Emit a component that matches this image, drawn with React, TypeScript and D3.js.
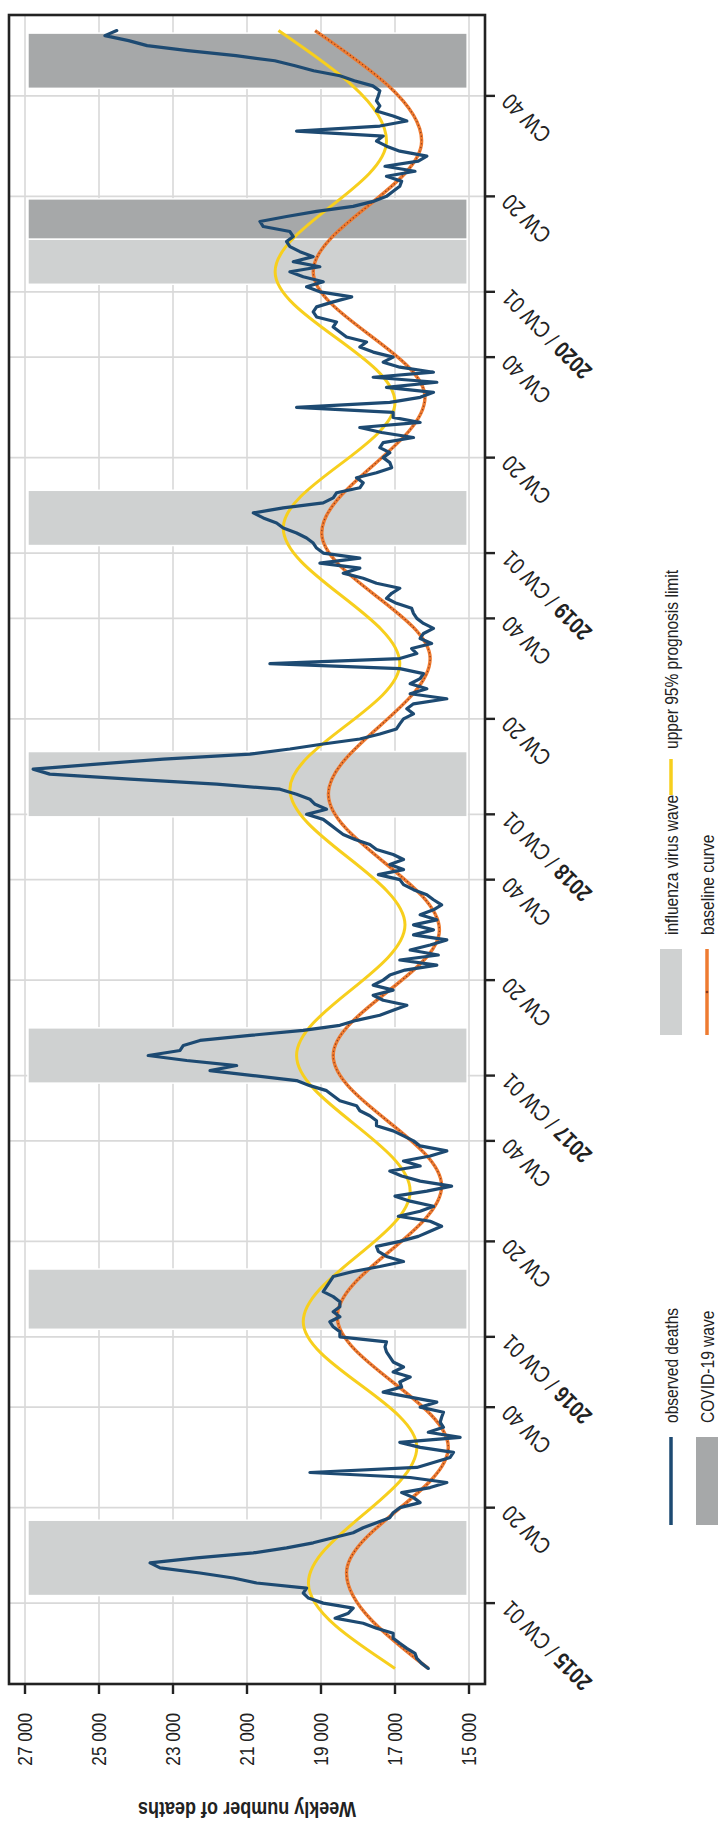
import React from "react";
import * as d3 from "d3";

const width = 726;
const height = 1823;

// the figure is laid out landscape and then turned a quarter turn left,
// so "x" below runs along the page from bottom to top
const left = 139;
const right = 1808;
const top = 9;
const bottom = 485;

// week index: 0 = 2015 CW01, data starts at 2014 CW40
const firstWeek = -13;

const deaths2014 = [16100, 16280, 16410, 16460, 16680, 16870, 17050, 17050, 17500, 17860, 18620, 18260, 18130];
const deaths2015 = [
  18940, 19340, 19480, 19390, 20740, 21370, 22270, 23350, 23620, 22360, 20830, 19930, 19210, 18670,
  18130, 17860, 17500, 17140, 17050, 16870, 16320, 16500, 16820, 16050, 15600, 16590, 19300, 16410,
  15960, 15510, 15420, 16320, 16870, 15240, 16100, 15690, 15780, 15740, 15690, 16320, 15870, 16590,
  17320, 16820, 16870, 16590, 17050, 16770, 17050, 17140, 17230, 17270, 17230,
];
const deaths2016 = [
  18490, 18490, 18670, 18760, 18490, 18670, 18490, 18490, 18670, 18940, 18850, 18760, 18670, 18130,
  17410, 16770, 17230, 17450, 17500, 16870, 16370, 16050, 15740, 16050, 16910, 16320, 15960, 16590,
  17000, 16140, 15470, 16320, 16820, 17140, 16320, 16770, 16050, 15600, 16320, 16500, 16770, 17050,
  17500, 17500, 17680, 17950, 18040, 18490, 18670, 18850, 19300, 19660,
];
const deaths2017 = [
  20830, 22000, 21280, 22630, 23670, 22810, 22720, 22270, 20920, 19480, 18490, 18040, 17410, 17050,
  16680, 17320, 17590, 17050, 17590, 17320, 17140, 16730, 15870, 16870, 15830, 16590, 16050, 15600,
  16500, 15960, 16500, 15870, 16320, 15960, 15740, 15960, 16140, 16500, 16770, 16870, 17450, 16770,
  17140, 16770, 17050, 17500, 17680, 18080, 18400, 18580, 18760, 18940,
];
const deaths2018 = [
  19390, 18850, 19160, 19300, 19660, 20110, 21820, 24160, 26330, 26780, 25060, 23260, 20920, 19840,
  18940, 17950, 17410, 16960, 16870, 16770, 16500, 16680, 16500, 15600, 16590, 16140, 16590, 16320,
  16230, 16870, 20380, 16870, 16410, 16550, 16010, 16320, 16230, 15960, 16230, 16410, 16500, 16550,
  16960, 17230, 17090, 16870, 17500, 17860, 18400, 17950, 19030, 17950,
];
const deaths2019 = [
  18940, 19120, 19210, 19390, 19660, 20020, 20200, 20560, 20830, 20020, 18940, 18670, 18580, 17950,
  17860, 18040, 17500, 17090, 17140, 17320, 17140, 17410, 17320, 16500, 17360, 17950, 16320, 17050,
  17050, 19660, 17140, 16320, 15960, 17230, 15870, 17590, 15960, 16870, 17320, 17050, 17590, 17950,
  17770, 18310, 18490, 18670, 18580, 19120, 19210, 19120, 18670, 18170,
];
const deaths2020 = [
  19030, 19390, 18940, 19480, 19840, 19030, 19750, 19210, 19570, 19840, 19930, 19750, 19840, 20560,
  20650, 19930, 19120, 18130, 17590, 17230, 17050, 16870, 16820, 17230, 16460, 17270, 16370, 16140,
  16870, 17230, 17500, 17320, 19660, 17410, 16680, 17050, 17500, 17410, 17500, 17450, 17410, 17600,
  18100, 18490, 19200, 19700, 20250, 21300, 22600, 23700, 24200, 24840, 24520,
];
const observed = [
  ...deaths2014, ...deaths2015, ...deaths2016, ...deaths2017, ...deaths2018, ...deaths2019, ...deaths2020,
];

// turning points of the two smooth curves
const upperWeeks = [-13, 4, 31, 56, 82, 109, 135, 162, 187, 214, 239, 265, 291, 313];
const upperValues = [17000, 19340, 16410, 19480, 16590, 19660, 16730, 19840, 16870, 20020, 17000, 20240, 17230, 20150];
const baseWeeks = [-13, 6, 31, 57, 83, 109, 134, 161, 188, 213, 240, 265, 291, 313];
const baseValues = [16100, 18310, 15560, 18560, 15740, 18670, 15800, 18800, 16050, 18980, 16190, 19210, 16280, 19160];

// shaded periods, first and last week index
const fluStart = [2, 55, 104, 157, 211, 263];
const fluEnd = [16, 66, 114, 169, 221, 271];
const covidStart = [272, 302];
const covidEnd = [279, 312];

const years = [2015, 2016, 2017, 2018, 2019, 2020];
const yearStart = [0, 53, 105, 157, 209, 261];
const valueTicks = [15000, 17000, 19000, 21000, 23000, 25000, 27000];

const x = d3.scaleLinear().domain([-16.1, 316.1]).range([left, right]);
const y = d3.scaleLinear().domain([15000, 27000]).range([469, 25]);
const fmt = d3.formatLocale({ decimal: ".", thousands: " ", grouping: [3], currency: ["", ""] }).format(",");

const observedLine = d3.line<number>().x((d, i) => x(firstWeek + i)).y(d => y(d));
const smoothLine = d3.line<[number, number]>().x(d => x(d[0])).y(d => y(d[1])).curve(d3.curveMonotoneX);
const upperPath = smoothLine(upperWeeks.map((w, i) => [w, upperValues[i]]));
const basePath = smoothLine(baseWeeks.map((w, i) => [w, baseValues[i]]));

const ticks: { week: number; year?: number; cw: string }[] = [];
yearStart.forEach((s, i) => {
  ticks.push({ week: s, year: years[i], cw: "CW 01" });
  ticks.push({ week: s + 19, cw: "CW 20" });
  ticks.push({ week: s + 39, cw: "CW 40" });
});

const font = "'Liberation Sans', Arial, Helvetica, sans-serif";
const ink = "#222";
const blue = "#1d4a72";
const yellow = "#f7cf1d";
const orange = "#ee7b31";
const lightGrey = "#cfd1d1";
const darkGrey = "#a6a8a9";
const gridColor = "#d9d9d9";

// condensed look: squeeze the text along its own direction
const Label = ({ x, y, angle = 0, size = 21, bold = false, anchor = "start", children }: any) => (
  <g transform={`translate(${x},${y}) rotate(${angle}) scale(0.82,1)`}>
    <text fontSize={size} fontWeight={bold ? "bold" : "normal"} textAnchor={anchor} dy="0.35em" fill={ink} fontFamily={font}>
      {children}
    </text>
  </g>
);

const band = (s: number, e: number) => ({ x0: x(s - 0.5), x1: x(e + 0.5) });

const App = () => {
  const bandTop = y(26920);
  const bandBottom = y(15050);
  return (
    <svg width={width} height={height} style={{ position: "absolute", left: 0, top: 0, background: "#fff" }}>
      <g transform={`translate(0,${height}) rotate(-90)`}>
        {/* grid */}
        {valueTicks.map(v => (
          <line key={v} x1={left} x2={right} y1={y(v)} y2={y(v)} stroke={gridColor} strokeWidth={1.6} />
        ))}
        {ticks.map(t => (
          <line key={t.week} x1={x(t.week)} x2={x(t.week)} y1={top} y2={bottom} stroke={gridColor} strokeWidth={1.6} />
        ))}

        {/* waves */}
        {fluStart.map((s, i) => {
          const b = band(s, fluEnd[i]);
          return <rect key={"f" + i} x={b.x0} y={bandTop} width={b.x1 - b.x0} height={bandBottom - bandTop} fill={lightGrey} stroke="#fff" strokeWidth={1.5} />;
        })}
        {covidStart.map((s, i) => {
          const b = band(s, covidEnd[i]);
          return <rect key={"c" + i} x={b.x0} y={bandTop} width={b.x1 - b.x0} height={bandBottom - bandTop} fill={darkGrey} stroke="#fff" strokeWidth={1.5} />;
        })}

        {/* curves */}
        <path d={upperPath ?? ""} fill="none" stroke={yellow} strokeWidth={3} />
        <path d={basePath ?? ""} fill="none" stroke={orange} strokeWidth={3.4} />
        <path d={basePath ?? ""} fill="none" stroke="#8a3a1c" strokeWidth={1.2} strokeDasharray="1.2 2.6" />
        <path d={observedLine(observed) ?? ""} fill="none" stroke={blue} strokeWidth={3.2} strokeLinejoin="round" strokeLinecap="round" />

        {/* frame and ticks */}
        <rect x={left} y={top} width={right - left} height={bottom - top} fill="none" stroke={ink} strokeWidth={2.6} />
        {valueTicks.map(v => (
          <g key={v}>
            <line x1={left} x2={left - 10} y1={y(v)} y2={y(v)} stroke={ink} strokeWidth={2.4} />
            <Label x={110} y={y(v)} anchor="end" size={21}>{fmt(v)}</Label>
          </g>
        ))}
        {ticks.map(t => (
          <g key={t.week}>
            <line x1={x(t.week)} x2={x(t.week)} y1={bottom} y2={bottom + 10} stroke={ink} strokeWidth={2.4} />
            <Label x={x(t.week) - 2} y={506} angle={-45} anchor="end" size={23}>
              {t.year ? <tspan fontWeight="bold">{t.year}</tspan> : null}
              {t.year ? " / " + t.cw : t.cw}
            </Label>
          </g>
        ))}
        <Label x={13} y={(y(15000) + y(27000)) / 2} angle={-90} anchor="middle" size={22} bold>
          Weekly number of deaths
        </Label>

        {/* legend */}
        <line x1={298} x2={386} y1={671} y2={671} stroke={blue} strokeWidth={3.5} />
        <Label x={400} y={671} size={19}>observed deaths</Label>
        <rect x={298} y={696} width={88} height={22} fill={darkGrey} />
        <Label x={400} y={707} size={19}>COVID-19 wave</Label>
        <rect x={788} y={660} width={86} height={22} fill={lightGrey} />
        <Label x={888} y={671} size={19}>influenza virus wave</Label>
        <line x1={788} x2={874} y1={707} y2={707} stroke={orange} strokeWidth={3.5} />
        <circle cx={831} cy={707} r={1.3} fill="#8a3a1c" />
        <Label x={888} y={707} size={19}>baseline curve</Label>
        <line x1={1028} x2={1064} y1={671} y2={671} stroke={yellow} strokeWidth={3.5} />
        <Label x={1074} y={671} size={19}>upper 95% prognosis limit</Label>
      </g>
    </svg>
  );
};

export default App;
